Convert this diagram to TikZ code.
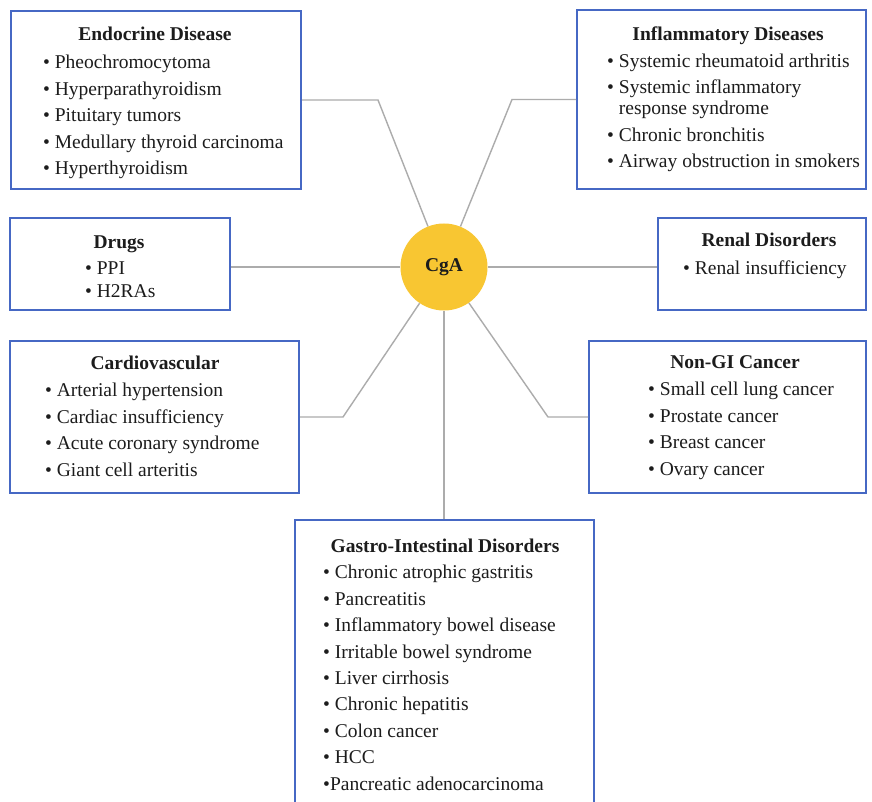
\documentclass[tikz,border=0pt]{standalone}
\usepackage{fontspec}
\setmainfont{Liberation Serif}
\definecolor{framecol}{RGB}{70,104,196}
\definecolor{conncol}{RGB}{172,172,172}
\definecolor{cgafill}{RGB}{248,198,50}
\definecolor{txtcol}{RGB}{28,28,28}
\begin{document}
\begin{tikzpicture}[x=1pt,y=-1pt,
  frame/.style={draw=framecol,line width=2pt,fill=white,inner sep=0pt},
  ttl/.style={font=\fontsize{19.5}{26.5}\selectfont\bfseries,text=txtcol,inner sep=0pt,anchor=base},
  lst/.style={font=\fontsize{19.5}{26.6}\selectfont,text=txtcol,inner sep=0pt,align=left,anchor=base west},
  conn/.style={draw=conncol,line width=1.4pt},
  hub/.style={circle,fill=cgafill,draw=none,minimum size=87pt,inner sep=0pt,font=\fontsize{19.5}{24}\selectfont\bfseries,text=txtcol}]
\useasboundingbox (0,0) rectangle (872,802);
\fill[white] (0,0) rectangle (872,802);

% hub
\node[hub] (cga) at (444,267) {CgA};

% frames
\node[frame,minimum width=290pt,minimum height=178pt] (endo) at (156,100) {};
\node[frame,minimum width=289pt,minimum height=179pt] (infl) at (721.5,99.5) {};
\node[frame,minimum width=220pt,minimum height=92pt] (drugs) at (120,264) {};
\node[frame,minimum width=208pt,minimum height=92pt] (renal) at (762,264) {};
\node[frame,minimum width=289pt,minimum height=152pt] (cardio) at (154.5,417) {};
\node[frame,minimum width=277pt,minimum height=152pt] (nongi) at (727.5,417) {};
\node[frame,minimum width=299pt,minimum height=300pt] (gi) at (444,670) {};

% connectors
\draw[conn] (endo.east) -- ++(76,0) coordinate (endoK) -- (cga);
\draw[conn] (infl.west) -- ++(-64,0) coordinate (inflK) -- (cga);
\draw[conn] (drugs.east |- cga) -- (cga);
\draw[conn] (renal.west |- cga) -- (cga);
\draw[conn] (cardio.east) -- ++(43,0) coordinate (cardioK) -- (cga);
\draw[conn] (nongi.west) -- ++(-40,0) coordinate (nongiK) -- (cga);
\draw[conn] (gi.north) -- (cga);

% Endocrine
\node[ttl] (endoT) at (155,41) {Endocrine Disease};
\node[lst] (endoL) at (43,175) {• Pheochromocytoma\\• Hyperparathyroidism\\• Pituitary tumors\\• Medullary thyroid carcinoma\\• Hyperthyroidism};

% Inflammatory
\node[ttl] (inflT) at (728,41) {Inflammatory Diseases};
\node[lst] (inflL) at (607,168) {• Systemic rheumatoid arthritis\\• Systemic inflammatory\\[-5.5pt]\hphantom{• }response syndrome\\• Chronic bronchitis\\• Airway obstruction in smokers};

% Drugs
\node[ttl] (drugsT) at (119,248) {Drugs};
\node[lst,font=\fontsize{19.5}{23.5}\selectfont] (drugsL) at (85,297.5) {• PPI\\• H2RAs};

% Renal
\node[ttl] (renalT) at (769,247) {Renal Disorders};
\node[lst] (renalL) at (683,274) {• Renal insufficiency};

% Cardiovascular
\node[ttl] (cardioT) at (155,369) {Cardiovascular};
\node[lst] (cardioL) at (45,476.5) {• Arterial hypertension\\• Cardiac insufficiency\\• Acute coronary syndrome\\• Giant cell arteritis};

% Non-GI
\node[ttl] (nongiT) at (735,368) {Non-GI Cancer};
\node[lst] (nongiL) at (648,475.5) {• Small cell lung cancer\\• Prostate cancer\\• Breast cancer\\• Ovary cancer};

% GI
\node[ttl] (giT) at (445,552) {Gastro-Intestinal Disorders};
\node[lst,font=\fontsize{19.5}{26.4}\selectfont] (giL) at (323,790) {• Chronic atrophic gastritis\\• Pancreatitis\\• Inflammatory bowel disease\\• Irritable bowel syndrome\\• Liver cirrhosis\\• Chronic hepatitis\\• Colon cancer\\• HCC\\•Pancreatic adenocarcinoma};
\end{tikzpicture}
\end{document}
